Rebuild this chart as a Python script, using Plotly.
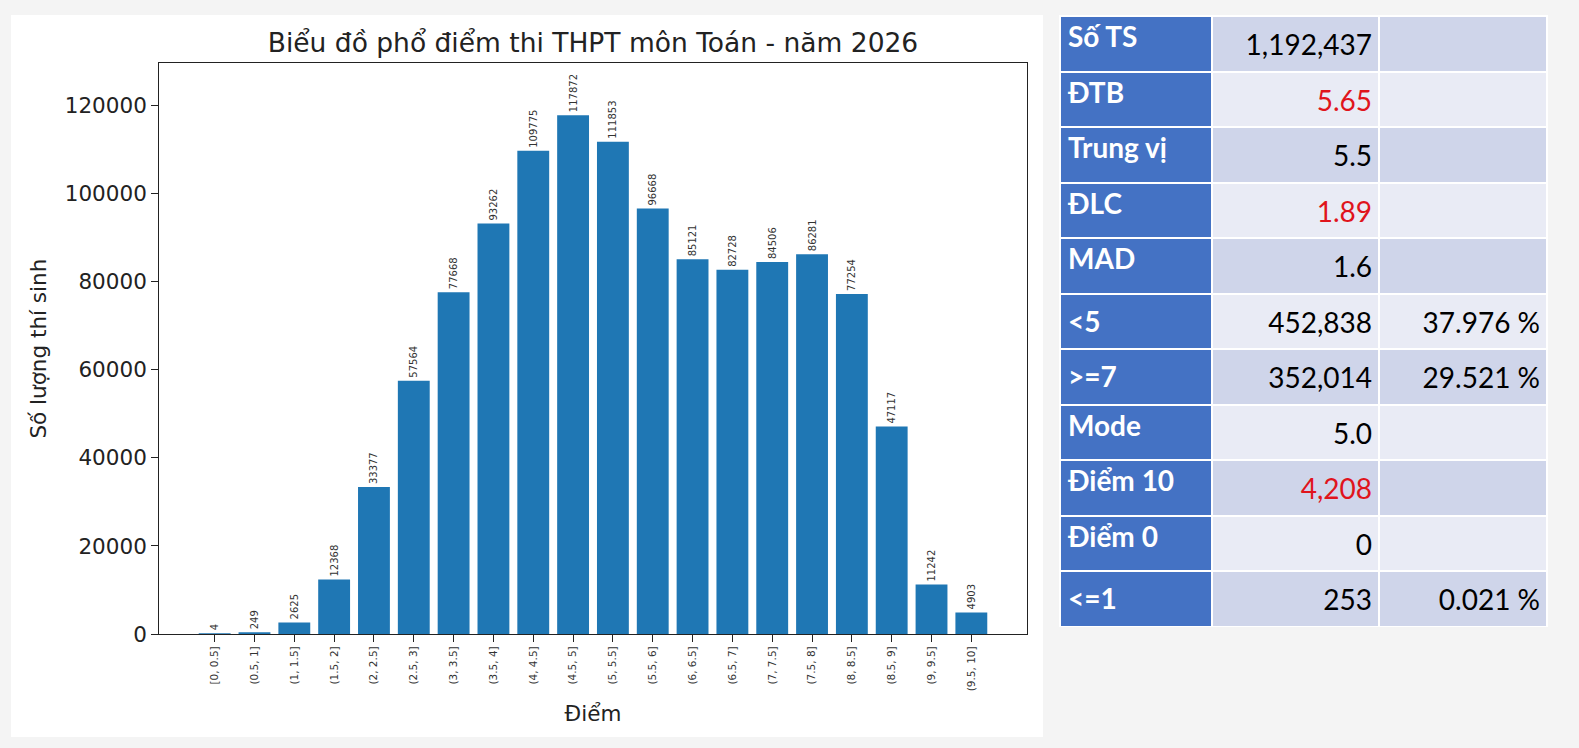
import plotly.graph_objects as go

W, H = 1579, 748

# score bins and number of candidates per bin
bins = ["[0, 0.5]", "(0.5, 1]", "(1, 1.5]", "(1.5, 2]", "(2, 2.5]", "(2.5, 3]",
        "(3, 3.5]", "(3.5, 4]", "(4, 4.5]", "(4.5, 5]", "(5, 5.5]", "(5.5, 6]",
        "(6, 6.5]", "(6.5, 7]", "(7, 7.5]", "(7.5, 8]", "(8, 8.5]", "(8.5, 9]",
        "(9, 9.5]", "(9.5, 10]"]
counts = [4, 249, 2625, 12368, 33377, 57564, 77668, 93262, 109775, 117872,
          111853, 96668, 85121, 82728, 84506, 86281, 77254, 47117, 11242, 4903]

# summary table
stat_names = ["Số TS", "ĐTB", "Trung vị", "ĐLC", "MAD", "<5", ">=7",
              "Mode", "Điểm 10", "Điểm 0", "<=1"]
stat_values = ["1,192,437", "5.65", "5.5", "1.89", "1.6", "452,838", "352,014",
               "5.0", "4,208", "0", "253"]
stat_pct = ["", "", "", "", "", "37.976 %", "29.521 %", "", "", "", "0.021 %"]
red_rows = ["ĐTB", "ĐLC", "Điểm 10"]

BAR_BLUE = "#1f77b4"
HEAD_BLUE = "#4472C4"
ROW_DARK = "#CFD5EA"
ROW_LIGHT = "#E9EBF5"
RED = "#E0141C"
CLEAR = "rgba(0,0,0,0)"


def px_x(x):
    return x / W


def px_y(y):
    return 1 - y / H


fig = go.Figure()

fig.add_trace(
    go.Bar(
        x=bins,
        y=counts,
        marker=dict(color=BAR_BLUE, line=dict(width=0)),
        width=0.8,
        text=[str(c) for c in counts],
        textposition="outside",
        textangle=-90,
        constraintext="none",
        cliponaxis=False,
        textfont=dict(family="DejaVu Sans", size=10, color="#333333"),
        showlegend=False,
        hoverinfo="x+y",
    )
)

# --- summary table -------------------------------------------------------
# first row goes in the header so all rows look alike
n = len(stat_names)
row_fill = [ROW_DARK if i % 2 == 0 else ROW_LIGHT for i in range(n)]
val_colors = [RED if s in red_rows else "black" for s in stat_names]
ROW_H = 55.5
TAB_TOP, TAB_BOT = 16, 627
COL_X = [1060, 1212, 1380, 1548]
COL_W = [COL_X[1] - COL_X[0], COL_X[2] - COL_X[1], COL_X[3] - COL_X[2]]
blank = [""] * n


def table_domain(x0, x1, drop):
    return dict(x=[px_x(x0), px_x(x1)], y=[px_y(TAB_BOT + drop), px_y(TAB_TOP + drop)])


# cell fills only
fig.add_trace(
    go.Table(
        domain=table_domain(COL_X[0], COL_X[3], 0),
        columnwidth=COL_W,
        header=dict(
            values=["", "", ""],
            fill_color=[HEAD_BLUE, row_fill[0], row_fill[0]],
            line=dict(color="white", width=2),
            height=ROW_H,
        ),
        cells=dict(
            values=[blank[1:], blank[1:], blank[1:]],
            fill_color=[[HEAD_BLUE] * (n - 1), row_fill[1:], row_fill[1:]],
            line=dict(color="white", width=2),
            height=ROW_H,
        ),
        hoverinfo="skip",
    )
)

# row labels (white, bold)
fig.add_trace(
    go.Table(
        domain=table_domain(COL_X[0], COL_X[1], 2),
        columnwidth=[COL_W[0]],
        header=dict(
            values=[stat_names[0]],
            fill_color=CLEAR,
            line=dict(color=CLEAR, width=0),
            align="left",
            font=dict(family="Lato", size=28, color="white", weight="bold"),
            height=ROW_H,
        ),
        cells=dict(
            values=[stat_names[1:]],
            fill_color=CLEAR,
            line=dict(color=CLEAR, width=0),
            align="left",
            font=dict(family="Lato", size=28, color="white", weight="bold"),
            height=ROW_H,
        ),
        hoverinfo="skip",
    )
)

# numbers, sitting lower in their cells
fig.add_trace(
    go.Table(
        domain=table_domain(COL_X[1], COL_X[3], 10),
        columnwidth=COL_W[1:],
        header=dict(
            values=[stat_values[0], stat_pct[0]],
            fill_color=CLEAR,
            line=dict(color=CLEAR, width=0),
            align="right",
            font=dict(family="Lato", size=28, color=[val_colors[0], "black"]),
            height=ROW_H,
        ),
        cells=dict(
            values=[stat_values[1:], stat_pct[1:]],
            fill_color=CLEAR,
            line=dict(color=CLEAR, width=0),
            align="right",
            font=dict(family="Lato", size=28, color=[val_colors[1:], ["black"] * (n - 1)]),
            height=ROW_H,
        ),
        hoverinfo="skip",
    )
)

fig.update_layout(
    width=W,
    height=H,
    margin=dict(l=0, r=0, t=0, b=0),
    paper_bgcolor="#F4F4F4",
    plot_bgcolor="white",
    font=dict(family="DejaVu Sans", color="#222222"),
    title=dict(
        text="Biểu đồ phổ điểm thi THPT môn Toán - năm 2026",
        x=px_x(593), xanchor="center",
        y=px_y(43), yanchor="middle",
        font=dict(family="DejaVu Sans", size=26.5, color="#222222"),
    ),
    xaxis=dict(
        domain=[px_x(159.3), px_x(1026.7)],
        range=[-1.39, 20.39],
        tickangle=-90,
        tickfont=dict(size=10.5, color="#333333"),
        ticks="outside",
        ticklen=7,
        tickcolor="#222222",
        showline=True,
        linecolor="#222222",
        linewidth=1.3,
        mirror=True,
        showgrid=False,
        title=dict(text="Điểm", font=dict(size=21.5), standoff=15),
        automargin=False,
    ),
    yaxis=dict(
        domain=[px_y(634), px_y(63.3)],
        range=[0, max(counts) * 1.1],
        tickvals=[0, 20000, 40000, 60000, 80000, 100000, 120000],
        tickformat="d",
        tickfont=dict(size=21.5, color="#222222"),
        ticks="outside",
        ticklen=7,
        tickcolor="#222222",
        showline=True,
        linecolor="#222222",
        linewidth=1.3,
        mirror=True,
        showgrid=False,
        zeroline=False,
        title=dict(text="Số lượng thí sinh", font=dict(size=21.5), standoff=12),
        automargin=False,
    ),
    shapes=[
        # white card behind the chart
        dict(type="rect", xref="paper", yref="paper",
             x0=px_x(11), x1=px_x(1043), y0=px_y(737), y1=px_y(15),
             fillcolor="white", line=dict(width=0), layer="below"),
    ],
    bargap=0.2,
)

fig.write_html(
    "out.html",
    config={"displayModeBar": False},
    post_script="document.body.style.margin='0px'; document.body.style.overflow='hidden';",
)
